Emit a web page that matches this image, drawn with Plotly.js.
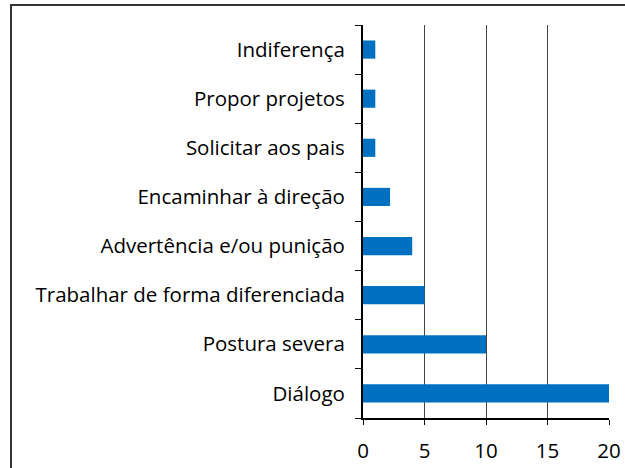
<!DOCTYPE html>
<html>
<head>
<meta charset="utf-8">
<script src="https://cdn.plot.ly/plotly-3.0.1.min.js"></script>
<style>html,body{margin:0;padding:0;background:#fff;}#chart{width:625px;height:468px;}</style>
</head>
<body>
<div id="chart"></div>
<script>
var categories = ["Diálogo", "Postura severa", "Trabalhar de forma diferenciada", "Advertência e/ou punição", "Encaminhar à direção", "Solicitar aos pais", "Propor projetos", "Indiferença"];
var values = [20, 10, 5, 4, 2.2, 1, 1, 1];
var xTicks = [0, 5, 10, 15, 20];

var trace = {
  type: 'bar',
  orientation: 'h',
  y: categories,
  x: values,
  width: 0.37,
  marker: {color: '#0070C0'},
  hoverinfo: 'none'
};

var layout = {
  width: 625, height: 468,
  margin: {l: 363, r: 16, t: 25, b: 50},
  paper_bgcolor: '#fff', plot_bgcolor: '#fff',
  font: {family: 'Open Sans, sans-serif', size: 20.5, color: '#000'},
  showlegend: false,
  xaxis: {
    range: [0, 20], tickvals: xTicks, ticktext: xTicks.map(String),
    showgrid: true, gridcolor: '#444', gridwidth: 1,
    zeroline: false, showline: true, linecolor: '#000', linewidth: 2,
    ticks: 'outside', ticklen: 5, tickcolor: '#000', tickwidth: 1,
    tickfont: {size: 20.5}, ticklabelstandoff: 8, fixedrange: true
  },
  yaxis: {
    type: 'category', categoryorder: 'array', categoryarray: categories,
    showgrid: false, zeroline: false, showline: true, linecolor: '#000', linewidth: 2,
    ticks: 'outside', ticklen: 6, tickcolor: '#000', tickwidth: 1, tickson: 'boundaries',
    tickfont: {size: 20.5}, ticklabelstandoff: 12, fixedrange: true
  },
  shapes: [{
    type: 'rect', xref: 'paper', yref: 'paper',
    x0: (11 - 363) / 246, x1: (660 - 363) / 246,
    y0: (418 - 500) / 393, y1: (418 - 5) / 393,
    line: {color: '#333', width: 2}, fillcolor: 'rgba(0,0,0,0)'
  }]
};

Plotly.newPlot('chart', [trace], layout, {staticPlot: true});
</script>
</body>
</html>
